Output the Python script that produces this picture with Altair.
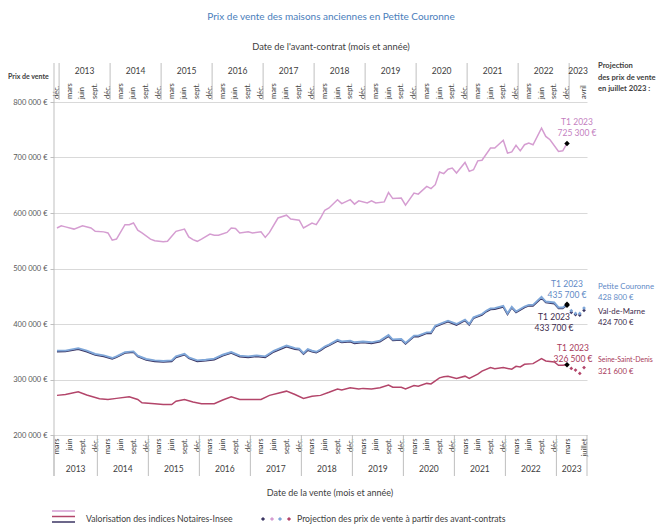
import altair as alt
import pandas as pd

# ---------------- data (month index 0 = mars 2013, value in k€) ----------------
hauts_de_seine = [(0,573),(1,577),(2,575),(4,571),(6,577),(8,573),(9,567),(11,566),(12,564),(13,551),(14,553),
    (16,579),(17,579),(18,582),(19,569),(20,564),(22,553),(23,550),(25,548),(26,549),(27,558),(28,567),
    (30,571),(31,557),(32,552),(33,549),(34,553),(36,562),(37,560),(38,560),(40,565),(41,573),(42,572),
    (43,564),(45,566),(46,564),(48,566),(49,556),(50,565),(52,591),(54,596),(55,589),(57,587),(58,573),
    (60,582),(61,579),(62,591),(63,605),(64,609),(66,624),(67,617),(69,624),(70,616),(71,622),(73,618),
    (74,622),(75,618),(77,620),(78,637),(79,626),(81,627),(82,614),(84,636),(85,634),(87,648),(88,644),
    (89,651),(90,674),(91,671),(92,679),(93,681),(94,672),(96,691),(97,675),(98,678),(99,694),(100,695),
    (102,717),(103,717),(105,731),(106,708),(107,710),(108,722),(109,712),(110,723),(111,726),(112,723),
    (114,753),(115,738),(116,732),(118,711),(119,712),(120,725.3)]

petite_couronne = [(0,352),(2,352),(5,356.5),(7,352),(9,346),(11,343.5),(13,338.7),(14,341.7),(16,349.4),
    (18,350.6),(19,343),(21,337),(23,334.5),(25,333.3),(27,334.5),(28,341.7),(30,346.4),(31,340),(33,334.5),
    (35,335.7),(37,337.5),(39,344.6),(41,349.4),(43,343),(45,341.7),(47,343.5),(49,341.7),(51,351.8),
    (54,361.3),(56,356.5),(57,355.4),(58,347.6),(59,354.8),(60,351.8),(61,350),(62,354),(63,359.5),
    (64,363),(66,371.4),(67,368.5),(69,370),(70,367),(72,368.5),(74,367),(76,370),(78,380),(79,372),
    (81,373),(82,366),(84,379),(85,379),(87,385),(88,385),(89,397),(91,403),(92,406),(94,400),(96,408),
    (97,400),(98,412),(100,418),(101,424),(102,428),(103,428.6),(105,432.7),(106,419),(107,431),(108,422.6),
    (110,431.5),(111,434.5),(112,434.5),(114,448.8),(115,440.5),(117,438.7),(118,429.8),(119,429.8),(120,435.7)]

val_de_marne = [(0,350),(2,350.5),(5,354.5),(7,350),(9,344),(11,341.5),(13,337),(14,340),(16,347.5),
    (18,349),(19,341),(21,335),(23,332.5),(25,331.5),(27,332.5),(28,339.5),(30,344.5),(31,338),(33,332.5),
    (35,333.5),(37,335.5),(39,342.5),(41,347.5),(43,341),(45,339.5),(47,341.5),(49,339.5),(51,349.5),
    (54,359),(56,354.5),(57,353.5),(58,345.5),(59,352.5),(60,350),(61,348),(62,352),(63,357.5),(64,361),
    (66,369),(67,366.5),(69,368),(70,365),(72,366.5),(74,365),(76,368),(78,377.5),(79,370),(81,371),
    (82,364),(84,377),(85,377),(87,383),(88,383),(89,395),(91,401),(92,404),(94,398),(96,406),(97,398),
    (98,410),(100,416),(101,422),(102,426),(103,426.5),(105,430.5),(106,417),(107,429),(108,420.5),
    (110,429.5),(111,432.5),(112,432.5),(114,446.5),(115,438.5),(117,436.5),(118,428),(119,428),(120,433.7)]

seine_saint_denis = [(0,271.4),(2,273),(5,278),(7,272),(10,265.5),(12,264),(14,266),(17,269),(19,264),
    (20,258),(23,256.5),(25,255),(27,255),(28,261),(30,264),(32,259.5),(34,256.5),(37,256.5),(39,263),
    (41,269),(43,264),(45,264),(48,264),(50,271.4),(54,279),(56,273),(58,266),(60,270),(62,271.4),
    (64,277),(66,283),(67,281),(69,285),(71,283),(72,284),(74,283),(76,285),(78,290),(79,286),(81,286),
    (82,283),(84,289),(85,288),(87,293),(88,292),(90,303),(91,304.8),(92,306),(94,301.8),(96,306),
    (97,301.8),(99,309.5),(100,315),(102,321.4),(103,319.6),(105,321.4),(107,318.5),(108,323.8),(109,322.6),
    (110,327.4),(112,328.6),(114,337.5),(115,333.3),(117,331.5),(118,325.6),(119,325.6),(120,326.5)]

proj_pc = [(121,424),(122,419),(123,419),(124,428.8)]
proj_vdm = [(121,421),(122,417),(123,416),(124,424.7)]
proj_ssd = [(121,320),(122,317),(123,311),(124,321.6)]

t1_points = [("Hauts-de-Seine",120,725.3,"725 300 €"),("Petite Couronne",120,435.7,"435 700 €"),
             ("Val-de-Marne",120,433.7,"433 700 €"),("Seine-Saint-Denis",120,326.5,"326 500 €")]

years = list(range(2013, 2024))
quarter_ticks = list(range(0, 121, 3)) + [124]
bottom_months = ["mars", "juin", "sept.", "déc."]
top_months = ["déc.", "mars", "juin", "sept."]
y_ticks = [200000, 300000, 400000, 500000, 600000, 700000, 800000]

# ---------------- style ----------------
PINK, BLUE, NAVY, RED = "#d59dd1", "#7ea6d8", "#3b3563", "#b3456a"
PINK_T, BLUE_T, NAVY_T, RED_T = "#c47fbf", "#5f8ac6", "#3d2b4d", "#a83a5a"
FONT = "Lato"
W, H = 533, 333
XMIN, XMAX = -0.7, 124.7

xs = alt.Scale(domain=[XMIN, XMAX], nice=False, zero=False)
ys = alt.Scale(domain=[200000, 800000], nice=False, zero=False)
XN = dict(scale=xs, axis=None)
YN = dict(scale=ys, axis=None)


def df(pairs):
    return pd.DataFrame({"m": [p[0] for p in pairs], "v": [p[1] * 1000 for p in pairs]})


def line(pairs, color, width=1.6):
    return alt.Chart(df(pairs)).mark_line(color=color, strokeWidth=width).encode(
        x=alt.X("m:Q", **XN), y=alt.Y("v:Q", **YN))


def proj(pairs, color):
    return alt.Chart(df(pairs)).mark_point(shape="diamond", filled=True, size=14, color=color, opacity=1).encode(
        x=alt.X("m:Q", **XN), y=alt.Y("v:Q", **YN))


def txt(t, x, y, color="#404040", size=8, bold=False, align="center"):
    return alt.Chart(pd.DataFrame({"t": [t]})).mark_text(
        font=FONT, fontSize=size, color=color, fontWeight="bold" if bold else "normal",
        align=align, baseline="middle").encode(x=alt.value(x), y=alt.value(y), text="t:N")


y_label = "replace(format(datum.value, ','), regexp(',', 'g'), ' ') + ' €'"
bottom_lbl = "datum.value == 124 ? 'juillet' : ['mars','juin','sept.','déc.'][floor((datum.value % 12) / 3)]"

# base layer: y axis with grid + bottom month axis
axis_df = pd.DataFrame({"m": quarter_ticks, "v": [200000] * len(quarter_ticks)})
base = alt.Chart(axis_df).mark_point(opacity=0).encode(
    x=alt.X("m:Q", scale=xs, axis=alt.Axis(orient="bottom", values=quarter_ticks, labelExpr=bottom_lbl,
             labelAngle=270, labelFontSize=7.5, labelColor="#404040", labelFont=FONT, ticks=False,
             domain=False, grid=False, labelPadding=3, labelOverlap=False, labelFlush=False,
             labelBound=False, title=None)),
    y=alt.Y("v:Q", scale=ys, axis=alt.Axis(orient="left", values=y_ticks, labelExpr=y_label, labelFontSize=7.5,
             labelColor="#595959", labelFont=FONT, grid=True, gridColor="#d9d9d9", gridWidth=1,
             domain=False, ticks=True, tickColor="#bfbfbf", tickSize=4, labelPadding=3, title=None,
             labelOverlap=False, labelFlush=False)),
)

# top (avant-contrat) month labels
top_lbls = ["avril" if m == 124 else top_months[(m % 12) // 3] for m in quarter_ticks]
top_text = alt.Chart(pd.DataFrame({"m": quarter_ticks, "l": top_lbls})).mark_text(
    font=FONT, fontSize=7.5, color="#404040", angle=270, align="left", baseline="middle").encode(
    x=alt.X("m:Q", **XN), y=alt.value(-3), text="l:N")

# year separators and labels
bot_sep = [XMIN] + [9.5 + 12 * k for k in range(10)] + [XMAX]
top_sep = [0.5 + 12 * k for k in range(11)]
bot_mid = [(bot_sep[i] + bot_sep[i + 1]) / 2 for i in range(len(years))]
top_mid = [(top_sep[i] + top_sep[i + 1]) / 2 for i in range(len(years) - 1)] + [(top_sep[-1] + XMAX) / 2]

sep_b = alt.Chart(pd.DataFrame({"m": bot_sep})).mark_rule(color="#bfbfbf", strokeWidth=1).encode(
    x=alt.X("m:Q", **XN), y=alt.value(H), y2=alt.value(H + 41))
sep_t = alt.Chart(pd.DataFrame({"m": top_sep})).mark_rule(color="#bfbfbf", strokeWidth=1).encode(
    x=alt.X("m:Q", **XN), y=alt.value(-39), y2=alt.value(-2))
left_line = alt.Chart(pd.DataFrame({"m": [XMIN]})).mark_rule(color="#bfbfbf", strokeWidth=1).encode(
    x=alt.X("m:Q", **XN), y=alt.value(-39), y2=alt.value(H + 41))
yr_b = alt.Chart(pd.DataFrame({"m": bot_mid, "y": [str(y) for y in years]})).mark_text(
    font=FONT, fontSize=8.5, color="#404040").encode(x=alt.X("m:Q", **XN), y=alt.value(H + 34), text="y:N")
yr_t = alt.Chart(pd.DataFrame({"m": top_mid, "y": [str(y) for y in years]})).mark_text(
    font=FONT, fontSize=8.5, color="#404040").encode(x=alt.X("m:Q", **XN), y=alt.value(-31), text="y:N")

# T1 2023 markers and annotations
t1 = pd.DataFrame({"serie": [p[0] for p in t1_points], "m": [p[1] for p in t1_points],
                   "v": [p[2] * 1000 for p in t1_points], "lbl": [p[3] for p in t1_points]})
dots = alt.Chart(t1).mark_point(shape="diamond", filled=True, size=30, color="black", opacity=1).encode(
    x=alt.X("m:Q", **XN), y=alt.Y("v:Q", **YN))


def annot(serie, color, dx, dy):
    d = t1[t1.serie == serie]
    enc = dict(x=alt.X("m:Q", **XN), y=alt.Y("v:Q", **YN))
    a = alt.Chart(d).mark_text(font=FONT, fontSize=8.5, color=color, dx=dx, dy=dy).encode(text=alt.value("T1 2023"), **enc)
    b = alt.Chart(d).mark_text(font=FONT, fontSize=8.5, color=color, dx=dx, dy=dy + 11).encode(text="lbl:N", **enc)
    return [a, b]


annots = (annot("Hauts-de-Seine", PINK_T, 10, -21) + annot("Petite Couronne", BLUE_T, 0, -20)
          + annot("Val-de-Marne", NAVY_T, -13, 12) + annot("Seine-Saint-Denis", RED_T, 6, -17))

texts = [
    txt("Prix de vente des maisons anciennes en Petite Couronne", 277, -85, color="#4a7ebb", size=10),
    txt("Date de l'avant-contrat (mois et année)", 277, -55, size=9.3),
    txt("Prix de vente", -46, -25, size=7, bold=True, align="left"),
    txt("Projection", 544, -36, size=7.6, bold=True, align="left"),
    txt("des prix de vente", 544, -24, size=7.6, bold=True, align="left"),
    txt("en juillet 2023 :", 544, -13, size=7.6, bold=True, align="left"),
    txt("Petite Couronne", 544, 185, color=BLUE_T, size=7.8, align="left"),
    txt("428 800 €", 544, 196, color=BLUE_T, size=7.8, align="left"),
    txt("Val-de-Marne", 544, 210, color=NAVY_T, size=7.8, align="left"),
    txt("424 700 €", 544, 221, color=NAVY_T, size=7.8, align="left"),
    txt("Seine-Saint-Denis", 544, 258, color=RED_T, size=7.0, align="left"),
    txt("321 600 €", 544, 270, color=RED_T, size=7.8, align="left"),
    txt("Date de la vente (mois et année)", 276, 391, size=9),
    txt("Valorisation des indices Notaires-Insee", 32, 417, size=8.7, align="left"),
    txt("Projection des prix de vente à partir des avant-contrats", 243, 417, size=8.7, align="left"),
]

legend_lines = []
for c, yy in [(PINK, 409), (RED, 414.5), (NAVY, 420)]:
    legend_lines.append(alt.Chart(pd.DataFrame({"a": [0]})).mark_rule(color=c, strokeWidth=1.5).encode(
        x=alt.value(-2), x2=alt.value(21), y=alt.value(yy)))
legend_pts = []
for c, xx in [(NAVY, 209), (PINK, 218), (BLUE, 226), (RED, 235)]:
    legend_pts.append(alt.Chart(pd.DataFrame({"a": [0]})).mark_point(
        shape="diamond", filled=True, size=18, color=c, opacity=1).encode(x=alt.value(xx), y=alt.value(417)))

layers = ([base, top_text, sep_b, sep_t, left_line, yr_b, yr_t,
           line(hauts_de_seine, PINK, 1.5), line(seine_saint_denis, RED, 1.5),
           line(val_de_marne, NAVY, 1.4), line(petite_couronne, BLUE, 1.9),
           proj(proj_vdm, NAVY), proj(proj_pc, BLUE), proj(proj_ssd, RED), dots]
          + annots + texts + legend_lines + legend_pts)

chart = alt.layer(*layers).resolve_axis(x="independent", y="independent").properties(
    width=W, height=H,
    padding={"left": 46, "top": 94, "right": 69, "bottom": 89},
    autosize=alt.AutoSizeParams(type="none"),
    background="white",
).configure_view(stroke=None)

chart.save("out.html", embed_options={"renderer": "svg", "actions": False})
